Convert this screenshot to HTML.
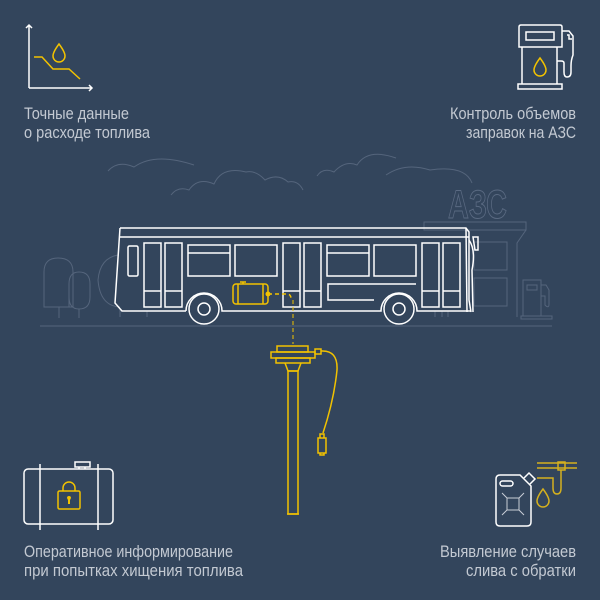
<!DOCTYPE html>
<html><head><meta charset="utf-8"><style>
html,body{margin:0;padding:0;background:#33455c;}
svg{display:block}
text{font-family:"Liberation Sans",sans-serif;fill:#c3c9d2;font-size:17px}
</style></head><body>
<svg width="600" height="600" viewBox="0 0 600 600" xmlns="http://www.w3.org/2000/svg">
<rect width="600" height="600" fill="#33455c"/>
<!-- faint scenery -->
<g fill="none" stroke="#55657c" stroke-width="1">
<path d="M108,171 Q118,160 134,167 Q155,152 194,165"/>
<path d="M171,195 Q178,186 189,190 Q198,177 214,184 Q222,166 246,172 Q256,170 265,180 Q278,173 288,182 Q298,180 303,190"/>
<path d="M317,176 Q323,167 334,172 Q345,160 357,165 Q368,148 396,158"/>
<path d="M386,175 Q405,162 430,170 Q465,165 472,183"/>
<path d="M44,307 V272 Q44,258 58,258 Q73,258 73,272 V307 Q73,307 58,307 Z"/>
<path d="M59,307 V318"/>
<path d="M69,307 V284 Q69,272 79,272 Q90,272 90,284 V297 Q90,309 79,309 Q69,309 69,297 Z"/>
<path d="M79,309 V318"/>
<path d="M118,255 Q100,258 98,280 Q100,306 120,307"/>
<path d="M120,317 V309 M147,317 V311"/>
<path d="M424,222 H526 V230 H424 Z"/>
<path d="M526,230 L517,243 V317"/>
<path d="M474,242 H507 V270 H474 Z M474,278 H507 V306 H474 Z"/>
<path d="M523,280 H541 V316 H523 Z M527,285 H537 V290 H527 Z M521,316 H552 V319 H521 Z M541,285 H546 L549,290 V304 Q549,309 545,305 V296 H541"/>
<path d="M435,317 V311 M442,317 V311 M448,317 V311"/>
<path d="M40,326 H552"/>
</g>
<text x="448" y="218" textLength="59" lengthAdjust="spacingAndGlyphs" style="font-size:40px;font-weight:bold;fill:none;stroke:#5a6a82;stroke-width:1">АЗС</text>
<!-- bus -->
<g fill="none" stroke="#ffffff" stroke-width="1.5">
<path d="M120,228 H466 L469,232 V300 L471,312 M120,228 L115,303 L122,311 H186"/>
<path d="M186,311 A18,18 0 0 1 222,311 H381 A18,18 0 0 1 417,311 H471"/>
<path d="M120,237 H469"/>
<path d="M466,228 L467,312"/>
<path d="M469,240 Q476,250 472,270 L473,312"/>
<path d="M473,237 H478 V250 H475 Z"/>
<circle cx="204" cy="309" r="15"/><circle cx="204" cy="309" r="6"/>
<circle cx="399" cy="309" r="15"/><circle cx="399" cy="309" r="6"/>
<rect x="128" y="246" width="10" height="30" rx="1.5"/>
<rect x="144" y="243" width="17" height="64"/><path d="M144,291 H161"/>
<rect x="165" y="243" width="17" height="64"/><path d="M165,291 H182"/>
<rect x="188" y="245" width="42" height="31"/><path d="M188,253 H230"/>
<rect x="235" y="245" width="42" height="31"/>
<rect x="283" y="243" width="17" height="64"/><path d="M283,291 H300"/>
<rect x="304" y="243" width="17" height="64"/><path d="M304,291 H321"/>
<rect x="327" y="245" width="42" height="31"/><path d="M327,253 H369"/>
<rect x="374" y="245" width="42" height="31"/>
<rect x="422" y="243" width="17" height="64"/><path d="M422,291 H439"/>
<rect x="443" y="243" width="17" height="64"/><path d="M443,291 H460"/>
<path d="M416,284 H328 V300 H374"/>
</g>
<!-- tank in bus -->
<g fill="none" stroke="#f2c200" stroke-width="1.5">
<rect x="233" y="284" width="35" height="20" rx="3"/>
<path d="M238,284 V304 M263,284 V304 M240,282 H246 M243,282 V284"/>
<path d="M268,294 H287 Q291,294 291,299" stroke-dasharray="4,3"/>
<path d="M293,300 V344" stroke-dasharray="4,3" stroke-width="1"/>
</g>
<circle cx="268" cy="294" r="2.5" fill="#f2c200"/>
<!-- sensor -->
<g fill="none" stroke="#f2c200" stroke-width="1.5">
<rect x="277" y="346" width="31" height="6"/>
<rect x="271" y="352" width="44" height="6"/>
<rect x="276" y="358" width="34" height="5"/>
<path d="M285,363 L288,371 H298 L301,363"/>
<rect x="288" y="371" width="10" height="143"/>
<path d="M287,514 H299"/>
<rect x="315" y="349" width="6" height="5"/>
<path d="M321,351 Q338,350 337,370 Q334,400 323,433"/>
<rect x="318" y="438" width="8" height="15"/>
<path d="M320,438 V434 H324 V438 M320,453 V455 H324 V453"/>
</g>
<!-- top-left icon -->
<g fill="none" stroke="#ffffff" stroke-width="1.5">
<path d="M29,88 V25 M26,28 L29,25 L32,28 M29,88 H92 M89,85 L92,88 L89,91"/>
</g>
<g fill="none" stroke="#f2c200" stroke-width="1.5">
<path d="M34,57 H42 L53,69 H69 L80,79"/>
<path d="M59,44 Q53,52 53,56 A6,6 0 0 0 65,56 Q65,52 59,44 Z"/>
</g>
<!-- pump -->
<g fill="none" stroke="#ffffff" stroke-width="1.5">
<path d="M519,47 V27 Q519,25 521,25 H560 Q562,25 562,27 V47 Z"/>
<rect x="526" y="32" width="28" height="8"/>
<path d="M522,47 V84 M557,47 V84"/>
<rect x="518" y="84" width="44" height="5"/>
<path d="M562,31 H569 L573,36 V55 Q571,60 571,66 V72 Q571,77 567,77 Q564,77 564,72 V63 Q564,61 561,61 H557"/>
<path d="M567,35 H569 V39 H572"/>
</g>
<path d="M540,58 Q534,66 534,70 A6,6 0 0 0 546,70 Q546,66 540,58 Z" fill="none" stroke="#f2c200" stroke-width="1.5"/>
<!-- bottom-left tank icon -->
<g fill="none" stroke="#ffffff" stroke-width="1.5">
<rect x="24" y="469" width="89" height="55" rx="4"/>
<path d="M40,464 V530 M98,464 V530"/>
<rect x="75" y="462" width="15" height="5"/>
<path d="M79,467 V469 M85,467 V469"/>
</g>
<g fill="none" stroke="#f2c200" stroke-width="1.5">
<rect x="58" y="491" width="22" height="18" rx="1.5"/>
<path d="M63,491 V488 A6,6 0 0 1 75,488 V491"/>
</g>
<path d="M69,496 A2,2 0 0 1 71,498 L70,500 V504 H68 V500 L67,498 A2,2 0 0 1 69,496 Z" fill="#f2c200"/>
<!-- canister -->
<g fill="none" stroke="#ffffff" stroke-width="1.5">
<path d="M500,475 H520 L531,486 V522 Q531,526 527,526 H500 Q496,526 496,522 V479 Q496,475 500,475 Z"/>
<rect x="500" y="481" width="13" height="5" rx="2.5"/>
<path d="M524,478 L529,473 L535,479 L530,484"/>
</g>
<g fill="none" stroke="#c9ced6" stroke-width="1">
<rect x="507" y="498" width="12" height="12"/>
<path d="M502,493 L507,498 M524,493 L519,498 M502,515 L507,510 M524,515 L519,510"/>
</g>
<g fill="none" stroke="#d4b01e" stroke-width="1.5">
<path d="M537,463 H577 M537,468 H577"/>
<rect x="558" y="462" width="7" height="8"/>
<path d="M561,470 V488 Q561,494 557,494 Q553,494 553,488 V478 H537"/>
<path d="M543,489 Q537,497 537,501 A6,6 0 0 0 549,501 Q549,497 543,489 Z"/>
</g>
<!-- labels -->
<text x="24" y="119" textLength="105" lengthAdjust="spacingAndGlyphs">Точные данные</text>
<text x="24" y="138" textLength="126" lengthAdjust="spacingAndGlyphs">о расходе топлива</text>
<text x="450" y="119" textLength="126" lengthAdjust="spacingAndGlyphs">Контроль объемов</text>
<text x="466" y="138" textLength="110" lengthAdjust="spacingAndGlyphs">заправок на АЗС</text>
<text x="24" y="557" textLength="209" lengthAdjust="spacingAndGlyphs">Оперативное информирование</text>
<text x="24" y="576" textLength="219" lengthAdjust="spacingAndGlyphs">при попытках хищения топлива</text>
<text x="440" y="557" textLength="136" lengthAdjust="spacingAndGlyphs">Выявление случаев</text>
<text x="466" y="576" textLength="110" lengthAdjust="spacingAndGlyphs">слива с обратки</text>
</svg>
</body></html>
